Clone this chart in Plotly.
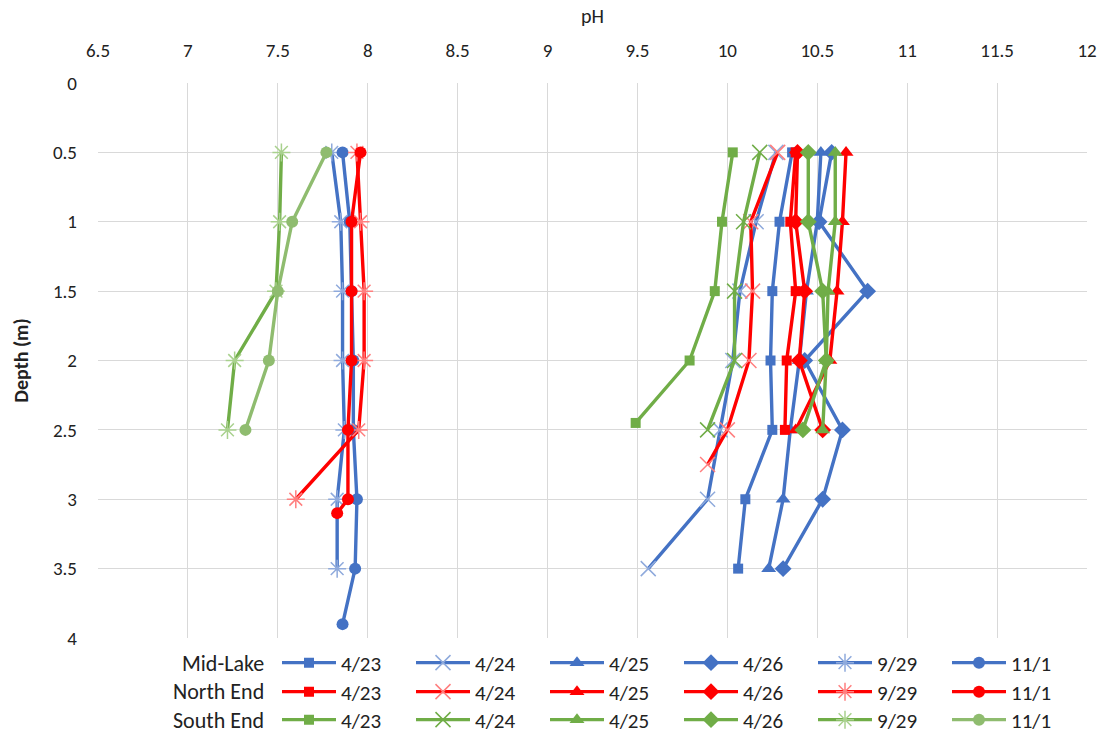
import plotly.graph_objects as go

# ---------------- data ----------------
dates = ["4/23", "4/24", "4/25", "4/26", "9/29", "11/1"]
sites = ["Mid-Lake", "North End", "South End"]

# Mid-Lake
mid_depth_std = [0.5, 1, 1.5, 2, 2.5, 3, 3.5]
mid_depth_111 = [0.5, 1, 1.5, 2, 2.5, 3, 3.5, 3.9]
mid_0423 = [10.36, 10.29, 10.25, 10.24, 10.25, 10.10, 10.06]
mid_0424 = [10.27, 10.16, 10.07, 10.03, 9.96, 9.89, 9.56]
mid_0425 = [10.52, 10.50, 10.44, 10.40, 10.35, 10.31, 10.23]
mid_0426 = [10.58, 10.51, 10.78, 10.43, 10.64, 10.53, 10.31]
mid_0929 = [7.80, 7.85, 7.86, 7.86, 7.87, 7.83, 7.83]
mid_1101 = [7.86, 7.90, 7.91, 7.92, 7.92, 7.94, 7.93, 7.86]

# North End
north_depth_std = [0.5, 1, 1.5, 2, 2.5]
north_depth_0424 = [0.5, 1, 1.5, 2, 2.5, 2.75]
north_depth_0929 = [0.5, 1, 1.5, 2, 2.5, 3]
north_depth_1101 = [0.5, 1, 1.5, 2, 2.5, 3, 3.1]
north_0423 = [10.38, 10.35, 10.38, 10.33, 10.32]
north_0424 = [10.28, 10.13, 10.14, 10.12, 10.00, 9.89]
north_0425 = [10.66, 10.64, 10.61, 10.57, 10.38]
north_0426 = [10.39, 10.38, 10.43, 10.40, 10.53]
north_0929 = [7.94, 7.96, 7.98, 7.98, 7.95, 7.60]
north_1101 = [7.96, 7.91, 7.91, 7.91, 7.89, 7.89, 7.83]

# South End
south_depth_0423 = [0.5, 1, 1.5, 2, 2.45]
south_depth_std = [0.5, 1, 1.5, 2, 2.5]
south_0423 = [10.03, 9.97, 9.93, 9.79, 9.49]
south_0424 = [10.18, 10.09, 10.04, 10.04, 9.89]
south_0425 = [10.60, 10.60, 10.56, 10.55, 10.53]
south_0426 = [10.45, 10.45, 10.53, 10.55, 10.42]
south_0929 = [7.52, 7.51, 7.49, 7.26, 7.22]
south_1101 = [7.77, 7.58, 7.50, 7.45, 7.32]

x_ticks = [6.5, 7, 7.5, 8, 8.5, 9, 9.5, 10, 10.5, 11, 11.5, 12]
y_ticks = [0, 0.5, 1, 1.5, 2, 2.5, 3, 3.5, 4]

# ---------------- styling ----------------
BLUE = "#4472C4"
LBLUE = "#8FAADC"
RED = "#FF0000"
LRED = "#FF7F7F"
GREEN = "#70AD47"
LGREEN = "#A9D18E"
LGREEN_LINE = "#8FBC6F"
TXT = "#222222"

FONT = "Carlito, Calibri, Lato, sans-serif"

marker_styles = {
    "4/23": dict(symbol="square", size=10),
    "4/24": dict(symbol="x-thin-open", size=15),
    "4/25": dict(symbol="triangle-up", size=13),
    "4/26": dict(symbol="diamond", size=13),
    "9/29": dict(symbol="asterisk-open", size=15),
    "11/1": dict(symbol="circle", size=12),
}

series = [
    ("Mid-Lake", [
        ("4/23", mid_depth_std, mid_0423, BLUE, BLUE),
        ("4/24", mid_depth_std, mid_0424, BLUE, LBLUE),
        ("4/25", mid_depth_std, mid_0425, BLUE, BLUE),
        ("4/26", mid_depth_std, mid_0426, BLUE, BLUE),
        ("9/29", mid_depth_std, mid_0929, BLUE, LBLUE),
        ("11/1", mid_depth_111, mid_1101, BLUE, BLUE),
    ]),
    ("North End", [
        ("4/23", north_depth_std, north_0423, RED, RED),
        ("4/24", north_depth_0424, north_0424, RED, LRED),
        ("4/25", north_depth_std, north_0425, RED, RED),
        ("4/26", north_depth_std, north_0426, RED, RED),
        ("9/29", north_depth_0929, north_0929, RED, LRED),
        ("11/1", north_depth_1101, north_1101, RED, RED),
    ]),
    ("South End", [
        ("4/23", south_depth_0423, south_0423, GREEN, GREEN),
        ("4/24", south_depth_std, south_0424, GREEN, GREEN),
        ("4/25", south_depth_std, south_0425, GREEN, GREEN),
        ("4/26", south_depth_std, south_0426, GREEN, GREEN),
        ("9/29", south_depth_std, south_0929, GREEN, LGREEN),
        ("11/1", south_depth_std, south_1101, LGREEN_LINE, LGREEN_LINE),
    ]),
]

legend_names = ["legend", "legend2", "legend3"]

fig = go.Figure()
for si, (site, lst) in enumerate(series):
    for (d, depth, vals, lc, mc) in lst:
        ms = marker_styles[d]
        m = dict(symbol=ms["symbol"], size=ms["size"], color=mc)
        if "open" in ms["symbol"]:
            m["line"] = dict(color=mc, width=1.5)
        else:
            m["line"] = dict(width=0)
        fig.add_trace(go.Scatter(
            x=vals, y=depth, mode="lines+markers", name=d,
            line=dict(color=lc, width=3.4), marker=m,
            legend=legend_names[si], legendgroup=site + d,
        ))

W, H = 1109, 740
ml, mr, mt, mb = 98, 22, 83, 102
ph = H - mt - mb
pw = W - ml - mr

row_y = [663, 692, 720]
legend_common = dict(
    orientation="h", xanchor="left", yanchor="middle",
    font=dict(family=FONT, size=21, color=TXT),
    itemwidth=54, entrywidthmode="pixels", entrywidth=65,
    bgcolor="rgba(0,0,0,0)", traceorder="normal", itemclick=False,
)
layout_legends = {}
for i, ln in enumerate(legend_names):
    layout_legends[ln] = dict(legend_common, x=(277 - ml) / pw,
                              y=-(row_y[i] - (mt + ph)) / ph)

fig.update_layout(
    width=W, height=H,
    margin=dict(l=ml, r=mr, t=mt, b=mb, autoexpand=False),
    paper_bgcolor="white", plot_bgcolor="white",
    font=dict(family=FONT, size=16, color=TXT),
    showlegend=True,
    **layout_legends,
    xaxis=dict(
        side="top", range=[6.5, 12], tickvals=x_ticks,
        ticktext=[f"{v:g}" for v in x_ticks],
        showgrid=True, gridcolor="#D9D9D9", gridwidth=1,
        zeroline=False, showline=False, ticks="",
        ticklabelstandoff=21,
        tickfont=dict(family=FONT, size=19, color=TXT),
        title=dict(text="pH", font=dict(family=FONT, size=20, color=TXT), standoff=10),
    ),
    yaxis=dict(
        range=[4, 0], tickvals=y_ticks,
        ticktext=[f"{v:g}" for v in y_ticks],
        showgrid=True, gridcolor="#D9D9D9", gridwidth=1,
        zeroline=False, showline=False, ticks="",
        ticklabelstandoff=20,
        tickfont=dict(family=FONT, size=19, color=TXT),
        title=dict(text="<b>Depth (m)</b>", font=dict(family=FONT, size=20, color=TXT), standoff=18),
    ),
)

for i, site in enumerate(sites):
    fig.add_annotation(
        text=site, xref="paper", yref="paper",
        x=(266 - ml) / pw, y=-(row_y[i] - (mt + ph)) / ph,
        xanchor="right", yanchor="middle", showarrow=False,
        font=dict(family=FONT, size=22, color=TXT),
    )

fig.write_html("out.html")
